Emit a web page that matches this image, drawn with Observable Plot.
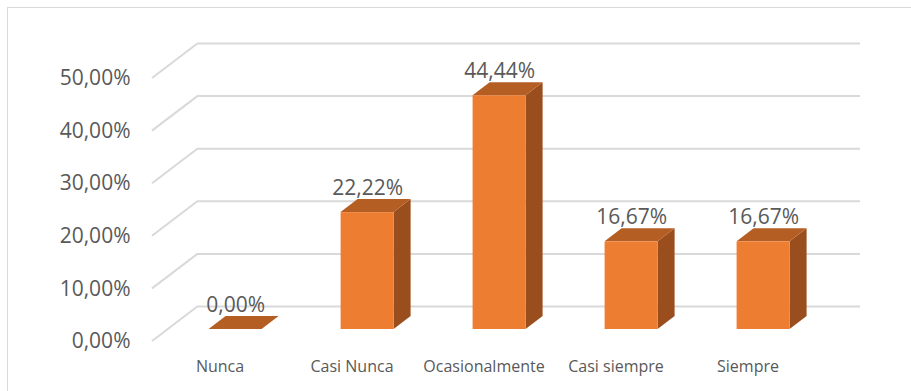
<!DOCTYPE html>
<html>
<head>
<meta charset="utf-8">
<script src="https://cdn.jsdelivr.net/npm/d3@7"></script>
<script src="https://cdn.jsdelivr.net/npm/@observablehq/plot@0.6"></script>
<style>
  html, body { margin: 0; padding: 0; background: #fff; }
  #wrap { position: relative; width: 911px; height: 391px; overflow: hidden; }
  #border { position: absolute; left: 7px; top: 7px; width: 960px; height: 440px;
            border: 1px solid #d9d9d9; box-sizing: border-box; }
  #chart { position: absolute; left: 0; top: 0; }
</style>
</head>
<body>
<div id="wrap"><div id="border"></div><div id="chart"></div></div>
<script>
// ---- data ----
const categories = ["Nunca", "Casi Nunca", "Ocasionalmente", "Casi siempre", "Siempre"];
const values = [0.00, 22.22, 44.44, 16.67, 16.67];
const yTicks = [0, 10, 20, 30, 40, 50];

const data = categories.map((c, i) => ({category: c, value: values[i]}));
const fmt = v => v.toFixed(2).replace(".", ",") + "%";

// ---- 3D styling ----
const WALL = {dx: 46, dy: -35};      // depth of the floor / back wall
const FRONT = {dx: 15.6, dy: -12};   // offset of bar front face from front plane
const SIDE = {dx: 17, dy: -13};      // bar depth
const COLORS = {front: "#ED7D31", side: "#9A4E1D", top: "#B55E24", grid: "#D9D9D9", text: "#595959"};
const FONT = "'Open Sans', sans-serif";

// diagonal gridlines on the left wall
function leftWall(index, scales, vals, dims) {
  const y = scales.y;
  const g = d3.create("svg:g").attr("stroke", COLORS.grid).attr("stroke-width", 2).attr("fill", "none");
  for (const t of yTicks) {
    const x0 = dims.marginLeft, y0 = y(t);
    g.append("line").attr("x1", x0).attr("y1", y0).attr("x2", x0 + WALL.dx).attr("y2", y0 + WALL.dy);
  }
  return g.node();
}

// top & side faces of the bars
function barFaces(index, scales, vals, dims) {
  const x = scales.x, y = scales.y, bw = x.bandwidth();
  const g = d3.create("svg:g");
  for (const d of data) {
    const x0 = x(d.category) + FRONT.dx, x1 = x0 + bw;
    const yT = y(d.value) + FRONT.dy, yB = y(0) + FRONT.dy;
    const pt = (a, b) => a + "," + b;
    g.append("polygon").attr("fill", COLORS.side)
      .attr("points", [pt(x1, yT), pt(x1 + SIDE.dx, yT + SIDE.dy), pt(x1 + SIDE.dx, yB + SIDE.dy), pt(x1, yB)].join(" "));
    g.append("polygon").attr("fill", COLORS.top)
      .attr("points", [pt(x0, yT), pt(x1, yT), pt(x1 + SIDE.dx, yT + SIDE.dy), pt(x0 + SIDE.dx, yT + SIDE.dy)].join(" "));
  }
  return g.node();
}

const chart = Plot.plot({
  width: 911,
  height: 391,
  marginLeft: 152,
  marginRight: 97,
  marginTop: 78,
  marginBottom: 50,
  style: {fontFamily: FONT, background: "transparent", overflow: "visible"},
  x: {domain: categories, paddingInner: 0.6, paddingOuter: 0.3, label: null},
  y: {domain: [0, 50], label: null},
  marks: [
    Plot.ruleY(yTicks, {stroke: COLORS.grid, strokeWidth: 2, dx: WALL.dx, dy: WALL.dy}),
    leftWall,
    Plot.axisY(yTicks, {tickSize: 0, tickPadding: 22, fontSize: 21, fill: COLORS.text,
                        tickFormat: fmt, label: null}),
    Plot.axisX({tickSize: 0, tickPadding: 19, fontSize: 16, fill: COLORS.text, label: null}),
    barFaces,
    Plot.barY(data, {x: "category", y: "value", fill: COLORS.front, dx: FRONT.dx, dy: FRONT.dy}),
    Plot.text(data, {x: "category", y: "value", text: d => fmt(d.value), fontSize: 21,
                     fill: COLORS.text, lineAnchor: "bottom", dx: FRONT.dx, dy: FRONT.dy - 18})
  ]
});
document.getElementById("chart").appendChild(chart);
</script>
</body>
</html>
